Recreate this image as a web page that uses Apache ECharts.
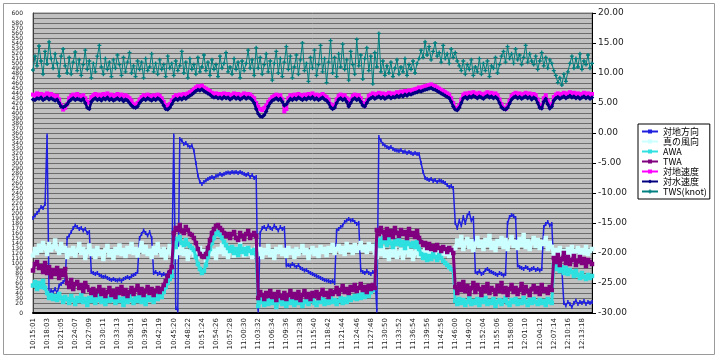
<!DOCTYPE html>
<html><head><meta charset="utf-8">
<script src="https://cdn.jsdelivr.net/npm/echarts@6/dist/echarts.min.js"></script>
<style>html,body{margin:0;padding:0;background:#fff;}#c{width:720px;height:358px;}</style>
</head><body><div id="c"></div>
<script>
var tickLabels = ["10:15:01","10:18:03","10:21:05","10:24:07","10:27:09","10:30:11","10:33:13","10:36:15","10:39:16","10:42:19","10:45:20","10:48:22","10:51:24","10:54:26","10:57:28","11:00:30","11:03:32","11:06:34","11:09:36","11:12:38","11:15:40","11:18:42","11:21:44","11:24:46","11:27:48","11:30:50","11:33:52","11:36:54","11:39:56","11:42:58","11:46:00","11:49:02","11:52:04","11:55:06","11:58:08","12:01:10","12:04:12","12:07:14","12:10:16","12:13:18"];
var seriesNames = ["対地方向","真の風向","AWA","TWA","対地速度","対水速度","TWS(knot)"];

var cog = [190,195,200,205,212,210,218,355,30,45,
42,48,40,55,58,62,65,150,155,162,
170,175,172,168,170,165,168,160,162,82,
80,78,80,76,74,72,73,70,68,66,
68,66,65,67,64,68,70,72,70,74,
76,78,82,150,158,165,160,155,162,150,
80,82,78,80,76,78,75,80,77,78,
355,10,5,348,345,338,340,335,332,335,
325,300,275,262,258,262,265,268,270,272,
270,274,275,278,276,278,280,281,280,282,
281,282,280,282,280,278,276,278,272,276,
270,272,5,160,170,172,168,175,170,168,
175,170,165,172,168,170,95,96,94,98,
95,92,96,90,88,85,86,82,80,78,
76,74,72,70,68,66,65,64,62,64,
60,165,168,172,175,182,185,188,185,186,
182,178,180,85,82,80,84,80,78,82,
80,5,352,345,338,335,332,330,332,328,
326,325,324,326,322,323,320,322,320,318,
320,318,318,300,282,270,268,266,268,264,
266,262,265,264,262,260,256,252,254,250,
180,170,185,175,192,180,195,200,185,190,
82,80,84,78,80,86,88,84,82,80,
78,76,80,78,75,78,180,192,196,194,
190,95,92,90,88,92,90,86,88,90,
86,88,85,88,172,178,182,175,178,92,
90,88,86,88,20,15,22,18,12,20,
25,18,22,20,24,18,22,20,22];

var twd = [115,128,120,135,125,140,130,118,138,126,
132,145,128,120,138,124,130,112,126,118,
130,115,125,138,120,128,110,122,135,118,
125,112,130,118,122,108,126,134,116,124,
110,128,120,135,118,126,114,130,122,138,
120,128,115,126,140,122,132,118,125,112,
130,120,138,124,116,128,110,122,134,118,
126,112,128,120,135,118,124,108,122,130,
116,126,112,130,118,124,106,120,132,118,
125,110,128,122,136,118,126,112,124,130,
115,128,120,138,122,116,130,118,126,112,
124,130,118,128,112,126,120,134,116,124,
110,128,122,132,118,126,114,130,120,125,
112,128,118,124,134,120,126,110,122,130,
118,126,114,132,122,128,116,130,124,136,
120,128,134,122,130,118,138,126,132,120,
136,124,130,140,126,132,122,138,128,134,
120,112,126,118,130,114,122,108,124,116,
128,112,120,126,110,122,130,116,124,108,
120,128,114,122,110,126,118,130,112,124,
116,128,120,110,124,118,130,114,122,126,
130,145,136,152,128,140,148,132,144,126,
138,150,134,142,128,146,136,154,130,140,
126,144,138,150,132,146,128,140,152,134,
142,130,148,136,156,132,144,128,140,150,
134,146,130,142,138,150,128,140,132,118,
126,112,130,120,124,110,128,118,132,116,
124,130,114,126,120,132,118,124,128];

var awa = [55,62,48,60,52,64,50,40,30,36,
28,34,26,38,30,22,32,28,20,34,
26,18,30,24,36,22,28,16,30,24,
32,20,26,34,22,28,18,30,24,36,
26,20,32,24,28,16,30,22,34,26,
20,30,24,36,22,28,18,32,26,30,
22,34,28,38,32,42,52,60,68,74,
140,132,148,152,140,136,146,138,134,130,
126,112,98,88,80,84,96,112,128,140,
150,158,162,156,150,142,136,130,124,132,
120,128,116,134,122,128,118,130,124,120,
126,118,14,22,28,16,24,18,30,20,
26,12,22,28,18,24,14,26,20,30,
16,24,20,28,14,22,26,18,24,30,
20,16,26,22,28,18,24,20,30,22,
26,18,24,30,20,28,22,32,26,30,
34,28,36,30,38,32,40,34,42,46,
50,138,146,134,150,142,136,148,140,132,
144,138,150,136,142,130,146,138,134,140,
132,142,128,118,110,116,106,114,108,118,
112,106,116,110,104,100,96,92,88,86,
24,18,28,20,26,16,22,30,18,24,
20,28,16,26,22,30,18,24,20,28,
14,22,26,18,24,30,20,16,26,22,
28,18,24,20,30,22,16,26,20,28,
22,18,26,20,24,16,28,22,20,96,
88,98,84,92,80,90,78,86,82,74,
84,76,70,80,72,68,76,70,74];

var twa = [85,98,102,90,94,82,100,80,92,72,
86,78,90,70,84,76,88,60,52,66,
48,58,62,50,56,44,60,52,46,40,
48,36,44,52,38,46,34,42,50,36,
44,32,48,40,52,38,46,34,42,50,
38,46,54,40,48,36,44,52,40,48,
36,44,50,42,48,56,64,74,82,92,
160,170,166,176,164,160,172,166,158,156,
150,140,128,118,114,112,118,130,146,160,
168,174,176,170,166,160,154,158,150,158,
162,150,146,160,154,148,158,164,150,156,
160,154,30,42,36,28,40,34,44,32,
38,26,42,34,30,40,28,36,44,32,
38,30,42,26,36,44,32,38,28,40,
34,42,30,38,46,36,40,32,44,38,
42,50,38,46,54,42,48,40,52,46,
56,44,50,58,46,52,42,54,48,56,
50,166,158,170,162,150,168,156,164,152,
170,160,154,166,158,162,150,168,156,160,
152,164,150,142,136,140,130,138,128,134,
126,136,130,124,132,128,122,130,126,120,
52,40,58,46,62,44,54,38,50,60,
42,56,48,36,52,44,58,40,50,46,
38,54,44,60,42,50,36,48,56,42,
50,38,46,58,40,52,44,36,48,54,
42,50,38,56,44,48,40,52,46,110,
102,116,96,108,120,100,112,98,106,114,
96,104,112,100,108,94,106,102,98];

var sog = [6.4,6.2,6.6,6.3,6.5,6.1,6.4,6.6,6.2,6.5,
6.3,6.0,6.2,5.6,4.6,3.9,4.2,4.8,5.8,6.2,
6.4,6.1,6.5,6.2,6.0,6.3,5.8,5.2,5.0,6.0,
6.3,6.5,6.2,6.4,6.1,6.5,6.3,6.6,6.2,6.4,
6.1,6.3,6.5,6.2,6.4,6.0,6.3,6.1,5.8,5.4,
4.8,4.6,5.0,5.6,6.0,6.3,6.1,6.4,6.2,6.0,
6.3,6.1,6.4,6.2,5.8,5.2,4.6,4.4,4.8,5.4,
6.0,6.3,6.1,6.4,6.2,6.5,6.3,6.6,6.8,7.0,
7.3,7.6,7.8,7.7,7.9,7.6,7.4,7.2,7.0,6.7,
6.5,6.6,6.4,6.5,6.3,6.6,6.4,6.5,6.2,6.4,
6.6,6.3,6.5,6.2,6.4,6.6,6.3,6.5,6.4,6.1,
5.8,5.0,4.4,4.0,3.8,4.2,4.6,5.2,5.6,6.0,
6.2,6.4,6.1,6.3,5.6,3.6,4.0,5.8,6.3,6.1,
6.4,6.2,6.5,6.3,6.1,6.4,6.2,6.5,6.3,6.6,
6.2,6.4,6.1,6.3,6.5,6.2,6.0,5.6,4.8,4.2,
4.6,5.6,6.2,6.4,6.1,6.3,5.8,4.8,5.6,6.2,
6.4,6.1,6.3,5.8,5.0,4.6,5.4,6.2,6.4,6.6,
6.3,6.5,6.7,6.4,6.6,6.3,6.5,6.7,6.4,6.6,
6.5,6.8,6.6,6.9,6.7,7.0,6.8,7.1,7.0,7.2,
7.3,7.4,7.6,7.5,7.7,7.8,7.9,8.0,8.1,7.9,
7.8,7.6,7.4,7.2,7.0,6.8,6.6,6.4,5.8,5.0,
4.2,4.0,4.6,5.6,6.4,6.6,6.3,6.7,6.5,6.8,
6.6,6.4,6.7,6.5,6.3,6.6,6.8,6.5,6.7,6.4,
6.6,6.3,5.6,4.8,4.2,4.0,4.6,5.4,6.2,6.5,
6.7,6.4,6.6,6.3,6.5,6.7,6.4,6.6,6.2,6.5,
6.3,5.6,4.6,4.4,5.8,6.3,5.4,4.4,4.8,6.0,
6.4,6.6,6.3,6.5,6.7,6.4,6.6,6.8,6.5,6.7,
6.4,6.6,6.3,6.5,6.7,6.4,6.6,6.3,6.5];

var stw = [5.6,5.5,5.8,5.7,5.9,5.5,5.7,5.9,5.6,5.8,
5.6,5.4,5.6,5.0,4.4,4.3,4.5,4.8,5.3,5.6,
5.8,5.5,5.7,5.6,5.4,5.7,5.0,4.2,4.0,5.2,
5.6,5.8,5.5,5.7,5.4,5.8,5.6,5.9,5.5,5.7,
5.4,5.6,5.8,5.5,5.7,5.3,5.6,5.4,5.0,4.6,
4.3,4.2,4.4,5.0,5.4,5.7,5.5,5.8,5.6,5.4,
5.7,5.5,5.8,5.6,5.2,4.6,4.0,3.9,4.2,4.8,
5.4,5.7,5.5,5.8,5.6,5.9,5.7,6.0,6.2,6.4,
6.7,7.0,7.2,7.1,7.3,7.0,6.8,6.6,6.4,6.1,
5.9,6.0,5.8,5.9,5.7,6.0,5.8,5.9,5.6,5.8,
6.0,5.7,5.9,5.6,5.8,6.0,5.7,5.9,5.8,5.5,
5.0,4.0,3.2,2.8,2.7,3.0,3.6,4.4,5.0,5.4,
5.6,5.8,5.5,5.7,5.2,4.6,4.8,5.3,5.7,5.5,
5.8,5.6,5.9,5.7,5.5,5.8,5.6,5.9,5.7,6.0,
5.6,5.8,5.5,5.7,5.9,5.6,5.4,5.0,4.3,4.0,
4.2,5.0,5.6,5.8,5.5,5.7,5.2,4.4,5.0,5.6,
5.8,5.5,5.7,5.2,4.6,4.4,5.0,5.6,5.8,6.0,
5.7,5.9,6.1,5.8,6.0,5.7,5.9,6.1,5.8,6.0,
5.9,6.2,6.0,6.3,6.1,6.4,6.2,6.5,6.4,6.6,
6.7,6.8,7.0,6.9,7.1,7.2,7.3,7.4,7.5,7.3,
7.2,7.0,6.8,6.6,6.4,6.2,6.0,5.8,5.2,4.4,
3.9,3.8,4.2,5.0,5.8,6.0,5.7,6.1,5.9,6.2,
6.0,5.8,6.1,5.9,5.7,6.0,6.2,5.9,6.1,5.8,
6.0,5.7,5.0,4.3,4.0,3.9,4.2,4.9,5.6,5.9,
6.1,5.8,6.0,5.7,5.9,6.1,5.8,6.0,5.6,5.9,
5.7,5.0,4.2,4.1,5.2,5.7,4.8,4.1,4.4,5.4,
5.8,6.0,5.7,5.9,6.1,5.8,6.0,6.2,5.9,6.1,
5.8,6.0,5.7,5.9,6.1,5.8,6.0,5.7,5.9];

var tws = [10.5,12.8,11.2,14.5,12.0,9.8,13.6,11.5,15.2,12.4,
10.8,13.2,11.6,9.5,12.8,14.0,11.2,10.0,12.6,9.8,
11.8,13.5,10.4,12.2,9.6,11.4,13.8,10.6,12.0,9.2,
11.6,10.2,12.8,14.6,11.0,9.8,12.4,10.6,11.8,9.4,
12.2,10.8,13.0,11.4,9.6,12.6,10.2,11.8,13.4,10.0,
11.2,9.4,12.0,10.6,11.8,9.2,12.4,10.4,11.0,13.2,
10.2,11.6,9.8,12.2,10.6,11.4,9.4,12.8,10.8,11.6,
9.6,12.0,10.4,11.2,13.6,10.0,11.8,9.2,12.4,10.6,
11.4,9.8,12.6,10.2,11.0,13.0,10.4,11.8,9.6,12.2,
10.6,11.4,9.4,12.8,10.8,11.6,13.4,10.2,11.0,9.8,
12.4,10.6,11.8,9.2,12.0,10.4,11.6,13.8,10.8,12.2,
9.6,14.2,10.8,12.6,9.8,11.4,13.2,10.2,12.0,8.8,
11.6,13.6,10.0,12.4,9.4,11.8,14.4,10.6,12.8,9.2,
11.0,13.0,9.8,12.2,15.0,10.4,11.6,8.6,12.6,10.8,
13.8,9.6,11.4,14.6,10.2,12.4,8.4,11.8,15.4,10.0,
12.6,9.4,13.2,11.0,14.8,10.6,12.2,8.8,13.6,11.4,
9.8,15.6,11.2,13.0,9.0,12.4,14.2,10.4,12.8,8.2,
13.4,11.0,16.6,10.2,12.0,9.6,11.2,10.0,11.8,9.4,
10.8,12.2,9.8,11.0,10.2,12.4,9.6,11.4,10.6,12.0,
10.0,11.6,12.4,13.8,12.6,15.2,13.0,14.4,12.2,13.6,
15.0,12.8,13.4,11.8,14.6,12.4,13.2,11.6,14.0,12.6,
13.4,12.0,11.2,10.4,12.0,9.8,11.4,10.6,12.2,9.6,
11.0,10.2,12.4,9.8,11.6,10.4,12.0,9.4,11.2,10.8,
12.6,10.0,11.4,12.8,13.6,11.8,14.4,12.4,13.2,11.6,
14.0,12.2,13.0,11.4,12.6,14.6,11.8,13.2,12.0,11.4,
12.8,10.6,12.0,13.4,11.2,12.6,10.8,12.2,11.6,10.4,
9.6,8.4,9.2,8.0,9.8,8.6,10.2,11.6,12.8,10.8,
12.4,11.0,13.2,10.6,12.0,11.4,13.0,10.8,11.6];

// left axis tick labels 0..600 every 10
var leftTickStep = 10;

// categories: sample times between the tick labels (7 samples per tick interval)
function toSec(s){var p=s.split(':');return (+p[0])*3600+(+p[1])*60+(+p[2]);}
function fmt(t){var h=Math.floor(t/3600),m=Math.floor(t%3600/60),s=t%60;return h+':'+(m<10?'0':'')+m+':'+(s<10?'0':'')+s;}
var categories = [];
for (var i=0;i<cog.length;i++){var k=Math.min(Math.floor(i/7),tickLabels.length-1);categories.push(i%7===0&&Math.floor(i/7)<tickLabels.length?tickLabels[k]:fmt(toSec(tickLabels[k])+(i-k*7)*26));}

var chart = echarts.init(document.getElementById('c'), null, {renderer:'canvas'});
var plus = 'path://M1,0H2V1H3V2H2V3H1V2H0V1H1Z';
function mk(name, data, yi, color, lw, sym, ss, z){
  return {name:name,type:'line',data:data,yAxisIndex:yi,z:z,
    showAllSymbol:true,symbol:sym,symbolSize:ss,
    lineStyle:{color:color,width:lw},itemStyle:{color:color,borderWidth:0},
    emphasis:{disabled:true},animation:false};
}
chart.setOption({
  animation:false,
  backgroundColor:'#fff',
  graphic:[{type:'rect',shape:{x:3.5,y:3.5,width:711,height:351},style:{fill:'none',stroke:'#9a9a9a',lineWidth:1},z:-10}],
  grid:{left:33,right:128,top:13,bottom:45,show:true,backgroundColor:'#c0c0c0',borderColor:'#808080',borderWidth:1},
  legend:{orient:'vertical',left:638,top:124,padding:[3,3,3,3],itemGap:1,itemWidth:16,itemHeight:5,
    borderColor:'#000',borderWidth:1,backgroundColor:'#fff',
    textStyle:{fontSize:9,lineHeight:9,fontFamily:'Noto Sans CJK JP',color:'#000'},data:seriesNames},
  xAxis:{type:'category',data:categories,boundaryGap:false,
    axisLine:{lineStyle:{color:'#000',width:2}},axisTick:{show:false},
    axisLabel:{interval:6,rotate:90,fontSize:7,fontFamily:'DejaVu Sans',color:'#222',margin:5},
    splitLine:{show:false}},
  yAxis:[
    {type:'value',min:0,max:600,interval:leftTickStep,position:'left',
     axisLine:{show:true,lineStyle:{color:'#404040'}},axisTick:{show:false},
     axisLabel:{fontSize:6,lineHeight:4,fontFamily:'DejaVu Sans',color:'#222',margin:10,
       hideOverlap:false,showMinLabel:true,showMaxLabel:true},
     splitLine:{show:true,lineStyle:{color:'#6c6c6c',width:1}}},
    {type:'value',min:-30,max:20,interval:5,position:'right',
     axisLine:{show:true,lineStyle:{color:'#000'}},axisTick:{show:true,length:4,lineStyle:{color:'#000'}},
     axisLabel:{fontSize:9,fontFamily:'DejaVu Sans',color:'#222',margin:6,formatter:function(v){return v.toFixed(2);}},
     splitLine:{show:false}}
  ],
  series:[
    mk(seriesNames[0],cog,0,'#1f1fe0',1.5,'rect',[1.5,4],2),
    mk(seriesNames[1],twd,0,'#ccffff',3.5,'rect',4.5,3),
    mk(seriesNames[2],awa,0,'#2ee0e0',3,'rect',4.5,4),
    mk(seriesNames[3],twa,0,'#800080',3,'rect',4.5,5),
    mk(seriesNames[4],sog,1,'#ff00ff',2.5,'rect',4,6),
    mk(seriesNames[5],stw,1,'#000080',2.5,'diamond',4.5,7),
    mk(seriesNames[6],tws,1,'#008080',1,plus,4,8)
  ]
});
</script></body></html>
